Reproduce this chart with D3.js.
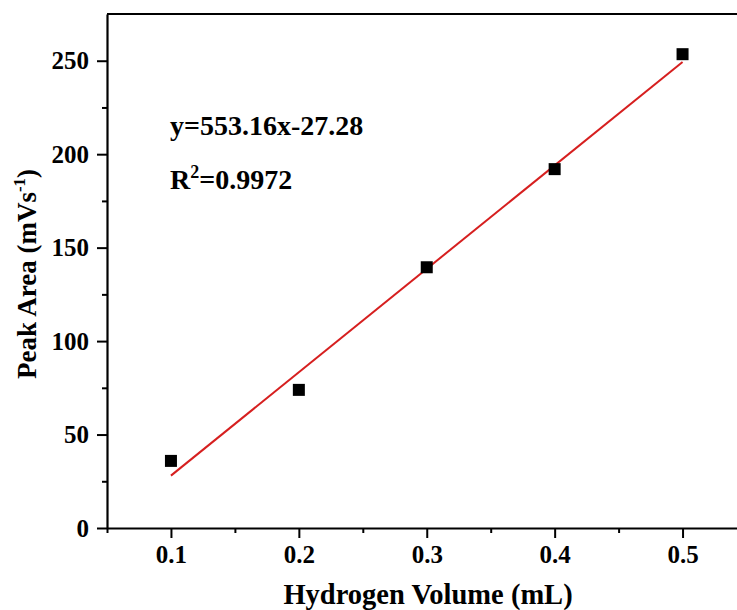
<!DOCTYPE html>
<html><head><meta charset="utf-8">
<script src="https://cdn.jsdelivr.net/npm/d3@7"></script>
<style>body{margin:0;background:#fff;} svg{display:block;}</style>
</head><body>
<svg id="c" width="737" height="610"></svg>
<script>
const volumes = [0.1, 0.2, 0.3, 0.4, 0.5];
const peakAreas = [35.9, 73.9, 139.5, 192.0, 253.5];
const fitSlope = 553.16, fitIntercept = -27.28;
const xTicks = [0.1, 0.2, 0.3, 0.4, 0.5];
const xMinorTicks = [0.05, 0.15, 0.25, 0.35, 0.45, 0.55];
const yTicks = [0, 50, 100, 150, 200, 250];
const yMinorTicks = [25, 75, 125, 175, 225];

const svg = d3.select("#c");
const L = 107, T = 14, B = 528;
const x = d3.scaleLinear().domain([0.05, 0.55]).range([L, 746.5]);
const y = d3.scaleLinear().domain([0, 275]).range([B, T]);
const font = "'Liberation Serif','Times New Roman',serif";

// frame
svg.append("line").attr("x1", L).attr("x2", 737).attr("y1", T).attr("y2", T)
  .attr("stroke", "#000").attr("stroke-width", 2.2);

const xa = svg.append("g").attr("transform", `translate(0,${B})`)
  .call(d3.axisBottom(x).tickValues(xTicks).tickFormat(d3.format(".1f")).tickSize(10).tickSizeOuter(0).tickPadding(7));
svg.append("g").attr("transform", `translate(0,${B})`)
  .call(d3.axisBottom(x).tickValues(xMinorTicks).tickFormat("").tickSize(5).tickSizeOuter(0))
  .select(".domain").remove();
const ya = svg.append("g").attr("transform", `translate(${L},0)`)
  .call(d3.axisLeft(y).tickValues(yTicks).tickSize(10).tickSizeOuter(0).tickPadding(8));
svg.append("g").attr("transform", `translate(${L},0)`)
  .call(d3.axisLeft(y).tickValues(yMinorTicks).tickFormat("").tickSize(5).tickSizeOuter(0))
  .select(".domain").remove();
svg.selectAll(".domain").attr("stroke-width", 2.2);
svg.selectAll(".tick line").attr("stroke-width", 2);
svg.selectAll(".tick text").attr("font-family", font).attr("font-weight", "bold").attr("font-size", 25).attr("fill", "#000");
xa.selectAll(".tick text").attr("dy", "0.71em");

// fit line
svg.append("line")
  .attr("x1", x(0.1)).attr("y1", y(fitSlope * 0.1 + fitIntercept))
  .attr("x2", x(0.5)).attr("y2", y(fitSlope * 0.5 + fitIntercept))
  .attr("stroke", "#d61f1f").attr("stroke-width", 2);

// points
const s = 12;
svg.selectAll("rect.pt").data(volumes).join("rect").attr("class", "pt")
  .attr("x", d => x(d) - s / 2).attr("y", (d, i) => y(peakAreas[i]) - s / 2)
  .attr("width", s).attr("height", s).attr("fill", "#000");

// annotation
svg.append("text").attr("x", 170).attr("y", 135)
  .attr("font-family", font).attr("font-weight", "bold").attr("font-size", 28)
  .text(`y=${fitSlope}x${fitIntercept}`);
const r2 = svg.append("text").attr("x", 170).attr("y", 189)
  .attr("font-family", font).attr("font-weight", "bold").attr("font-size", 28);
r2.append("tspan").text("R");
r2.append("tspan").attr("font-size", 18).attr("dy", -11).text("2");
r2.append("tspan").attr("dy", 11).text("=0.9972");

// axis titles
svg.append("text").attr("x", 428).attr("y", 604).attr("text-anchor", "middle")
  .attr("font-family", font).attr("font-weight", "bold").attr("font-size", 28.5)
  .text("Hydrogen Volume (mL)");
const yt = svg.append("text").attr("transform", `translate(36,274) rotate(-90)`)
  .attr("text-anchor", "middle")
  .attr("font-family", font).attr("font-weight", "bold").attr("font-size", 27);
yt.append("tspan").text("Peak Area (mVs");
yt.append("tspan").attr("font-size", 17).attr("dy", -11).text("-1");
yt.append("tspan").attr("dy", 11).text(")");
</script>
</body></html>
